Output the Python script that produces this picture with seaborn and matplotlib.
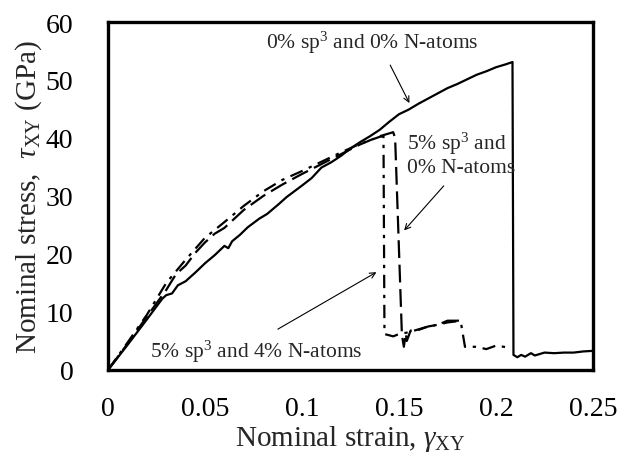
import numpy as np
import pandas as pd
import matplotlib
matplotlib.use("Agg")
import matplotlib.pyplot as plt
import seaborn as sns

# ---- data ----
x_pure = [0, 0.01, 0.02, 0.028, 0.030, 0.033, 0.036, 0.040, 0.045, 0.050, 0.055, 0.060, 0.062,
          0.064, 0.068, 0.072, 0.078, 0.082, 0.088, 0.092, 0.100, 0.105, 0.110, 0.115, 0.120,
          0.125, 0.130, 0.135, 0.140, 0.145, 0.150, 0.155, 0.160, 0.165, 0.170, 0.175, 0.180,
          0.185, 0.190, 0.195, 0.200, 0.205, 0.2085, 0.209, 0.211, 0.213, 0.215, 0.218, 0.220,
          0.225, 0.230, 0.235, 0.240, 0.245, 0.250]
y_pure = [0, 4.3, 8.7, 12.3, 12.9, 13.2, 14.6, 15.3, 16.8, 18.4, 19.8, 21.4, 21.0,
          22.2, 23.3, 24.6, 26.1, 26.9, 28.6, 29.8, 31.8, 33.1, 34.9, 35.8, 36.9,
          38.2, 39.3, 40.3, 41.4, 42.8, 44.1, 44.9, 45.9, 46.8, 47.7, 48.6, 49.3,
          50.1, 50.9, 51.5, 52.2, 52.7, 53.1, 2.6, 2.2, 2.6, 2.3, 2.9, 2.5,
          3.0, 2.9, 3.0, 3.0, 3.2, 3.3]

x_sp3 = [0, 0.01, 0.02, 0.03, 0.035, 0.04, 0.045, 0.05, 0.055, 0.06, 0.07, 0.08, 0.09, 0.10,
         0.11, 0.12, 0.13, 0.14, 0.145, 0.147, 0.148, 0.1515, 0.1525, 0.1535, 0.154, 0.156,
         0.16, 0.165, 0.17, 0.175, 0.181]
y_sp3 = [0, 4.5, 9.2, 13.8, 16.5, 18.0, 20.2, 22.0, 23.5, 24.5, 27.6, 30.0, 32.0, 33.8,
         35.5, 37.2, 38.9, 40.3, 40.8, 41.0, 40.0, 6.0, 4.0, 6.3, 5.0, 6.8,
         6.9, 7.5, 7.8, 8.5, 8.5]

x_sp3n = [0, 0.01, 0.02, 0.03, 0.04, 0.05, 0.06, 0.07, 0.08, 0.09, 0.10, 0.11, 0.12, 0.13,
          0.14, 0.142, 0.1425, 0.147, 0.15, 0.155, 0.16, 0.165, 0.17, 0.175, 0.18, 0.182,
          0.184, 0.19, 0.195, 0.20, 0.206]
y_sp3n = [0, 4.7, 9.5, 15.0, 19.0, 22.8, 25.5, 28.3, 30.8, 32.8, 34.3, 35.9, 37.5, 39.0,
          40.2, 40.3, 6.2, 5.8, 6.2, 6.5, 7.0, 7.5, 7.8, 8.2, 8.4, 8.0,
          4.0, 4.0, 3.6, 4.2, 3.9]

x_ticks = [0, 0.05, 0.1, 0.15, 0.2, 0.25]
x_tick_labels = ["0", "0.05", "0.1", "0.15", "0.2", "0.25"]
y_ticks = [0, 10, 20, 30, 40, 50, 60]

sns.set_style("white")
plt.rcParams['font.family'] = ['Liberation Serif', 'DejaVu Serif']
plt.rcParams['mathtext.fontset'] = 'custom'
plt.rcParams['mathtext.rm'] = 'Liberation Serif'
plt.rcParams['mathtext.it'] = 'Liberation Serif:italic'

fig = plt.figure(figsize=(6.19, 4.60), dpi=100)
ax = fig.add_axes([0.1745, 0.1935, 0.7835, 0.7565])

df1 = pd.DataFrame({"x": x_pure, "y": y_pure})
df2 = pd.DataFrame({"x": x_sp3, "y": y_sp3})
df3 = pd.DataFrame({"x": x_sp3n, "y": y_sp3n})

sns.lineplot(data=df1, x="x", y="y", ax=ax, color="black", lw=1.6, sort=False, estimator=None)
sns.lineplot(data=df2, x="x", y="y", ax=ax, color="black", lw=1.6, sort=False, estimator=None,
             linestyle=(0, (8, 3)))
sns.lineplot(data=df3, x="x", y="y", ax=ax, color="black", lw=1.6, sort=False, estimator=None,
             linestyle=(0, (6, 3, 1.5, 3)))

ax.set_xlim(0, 0.25)
ax.set_ylim(0, 60)
ax.set_xticks(x_ticks)
ax.set_xticklabels(x_tick_labels)
ax.set_yticks(y_ticks)
ax.tick_params(direction="in", length=5, width=1, labelsize=20, colors="black")
ax.tick_params(axis="y", pad=25)
ax.tick_params(axis="x", pad=19)
for s in ax.spines.values():
    s.set_linewidth(2.4)
    s.set_color("black")
    s.set_visible(True)

ax.set_xlabel(r"Nominal strain, $\mathit{\gamma}_{\mathrm{XY}}$", fontsize=21, labelpad=1)
ax.set_ylabel(r"Nominal stress,  $\mathit{\tau}_{\mathrm{XY}}$ (GPa)", fontsize=21, labelpad=1)

ax.text(0.1363, 56.6, r"0% sp$^{3}$ and 0% N-atoms", fontsize=15.5, ha="center", va="center")
ax.annotate("", xy=(0.156, 45.6), xytext=(0.1448, 53.0),
            arrowprops=dict(arrowstyle="->", lw=0.8, color="black"))
ax.text(0.1543, 37.3, "5% sp$^{3}$ and\n0% N-atoms", fontsize=15.5, ha="left", va="center",
        linespacing=1.15)
ax.annotate("", xy=(0.1517, 23.7), xytext=(0.174, 32.1),
            arrowprops=dict(arrowstyle="->", lw=0.8, color="black"))
ax.text(0.0217, 3.3, "5% sp$^{3}$ and 4% N-atoms", fontsize=15.5, ha="left", va="center")
ax.annotate("", xy=(0.1396, 17.1), xytext=(0.0863, 6.8),
            arrowprops=dict(arrowstyle="->", lw=0.8, color="black"))

fig.savefig("out.png", dpi=100)
